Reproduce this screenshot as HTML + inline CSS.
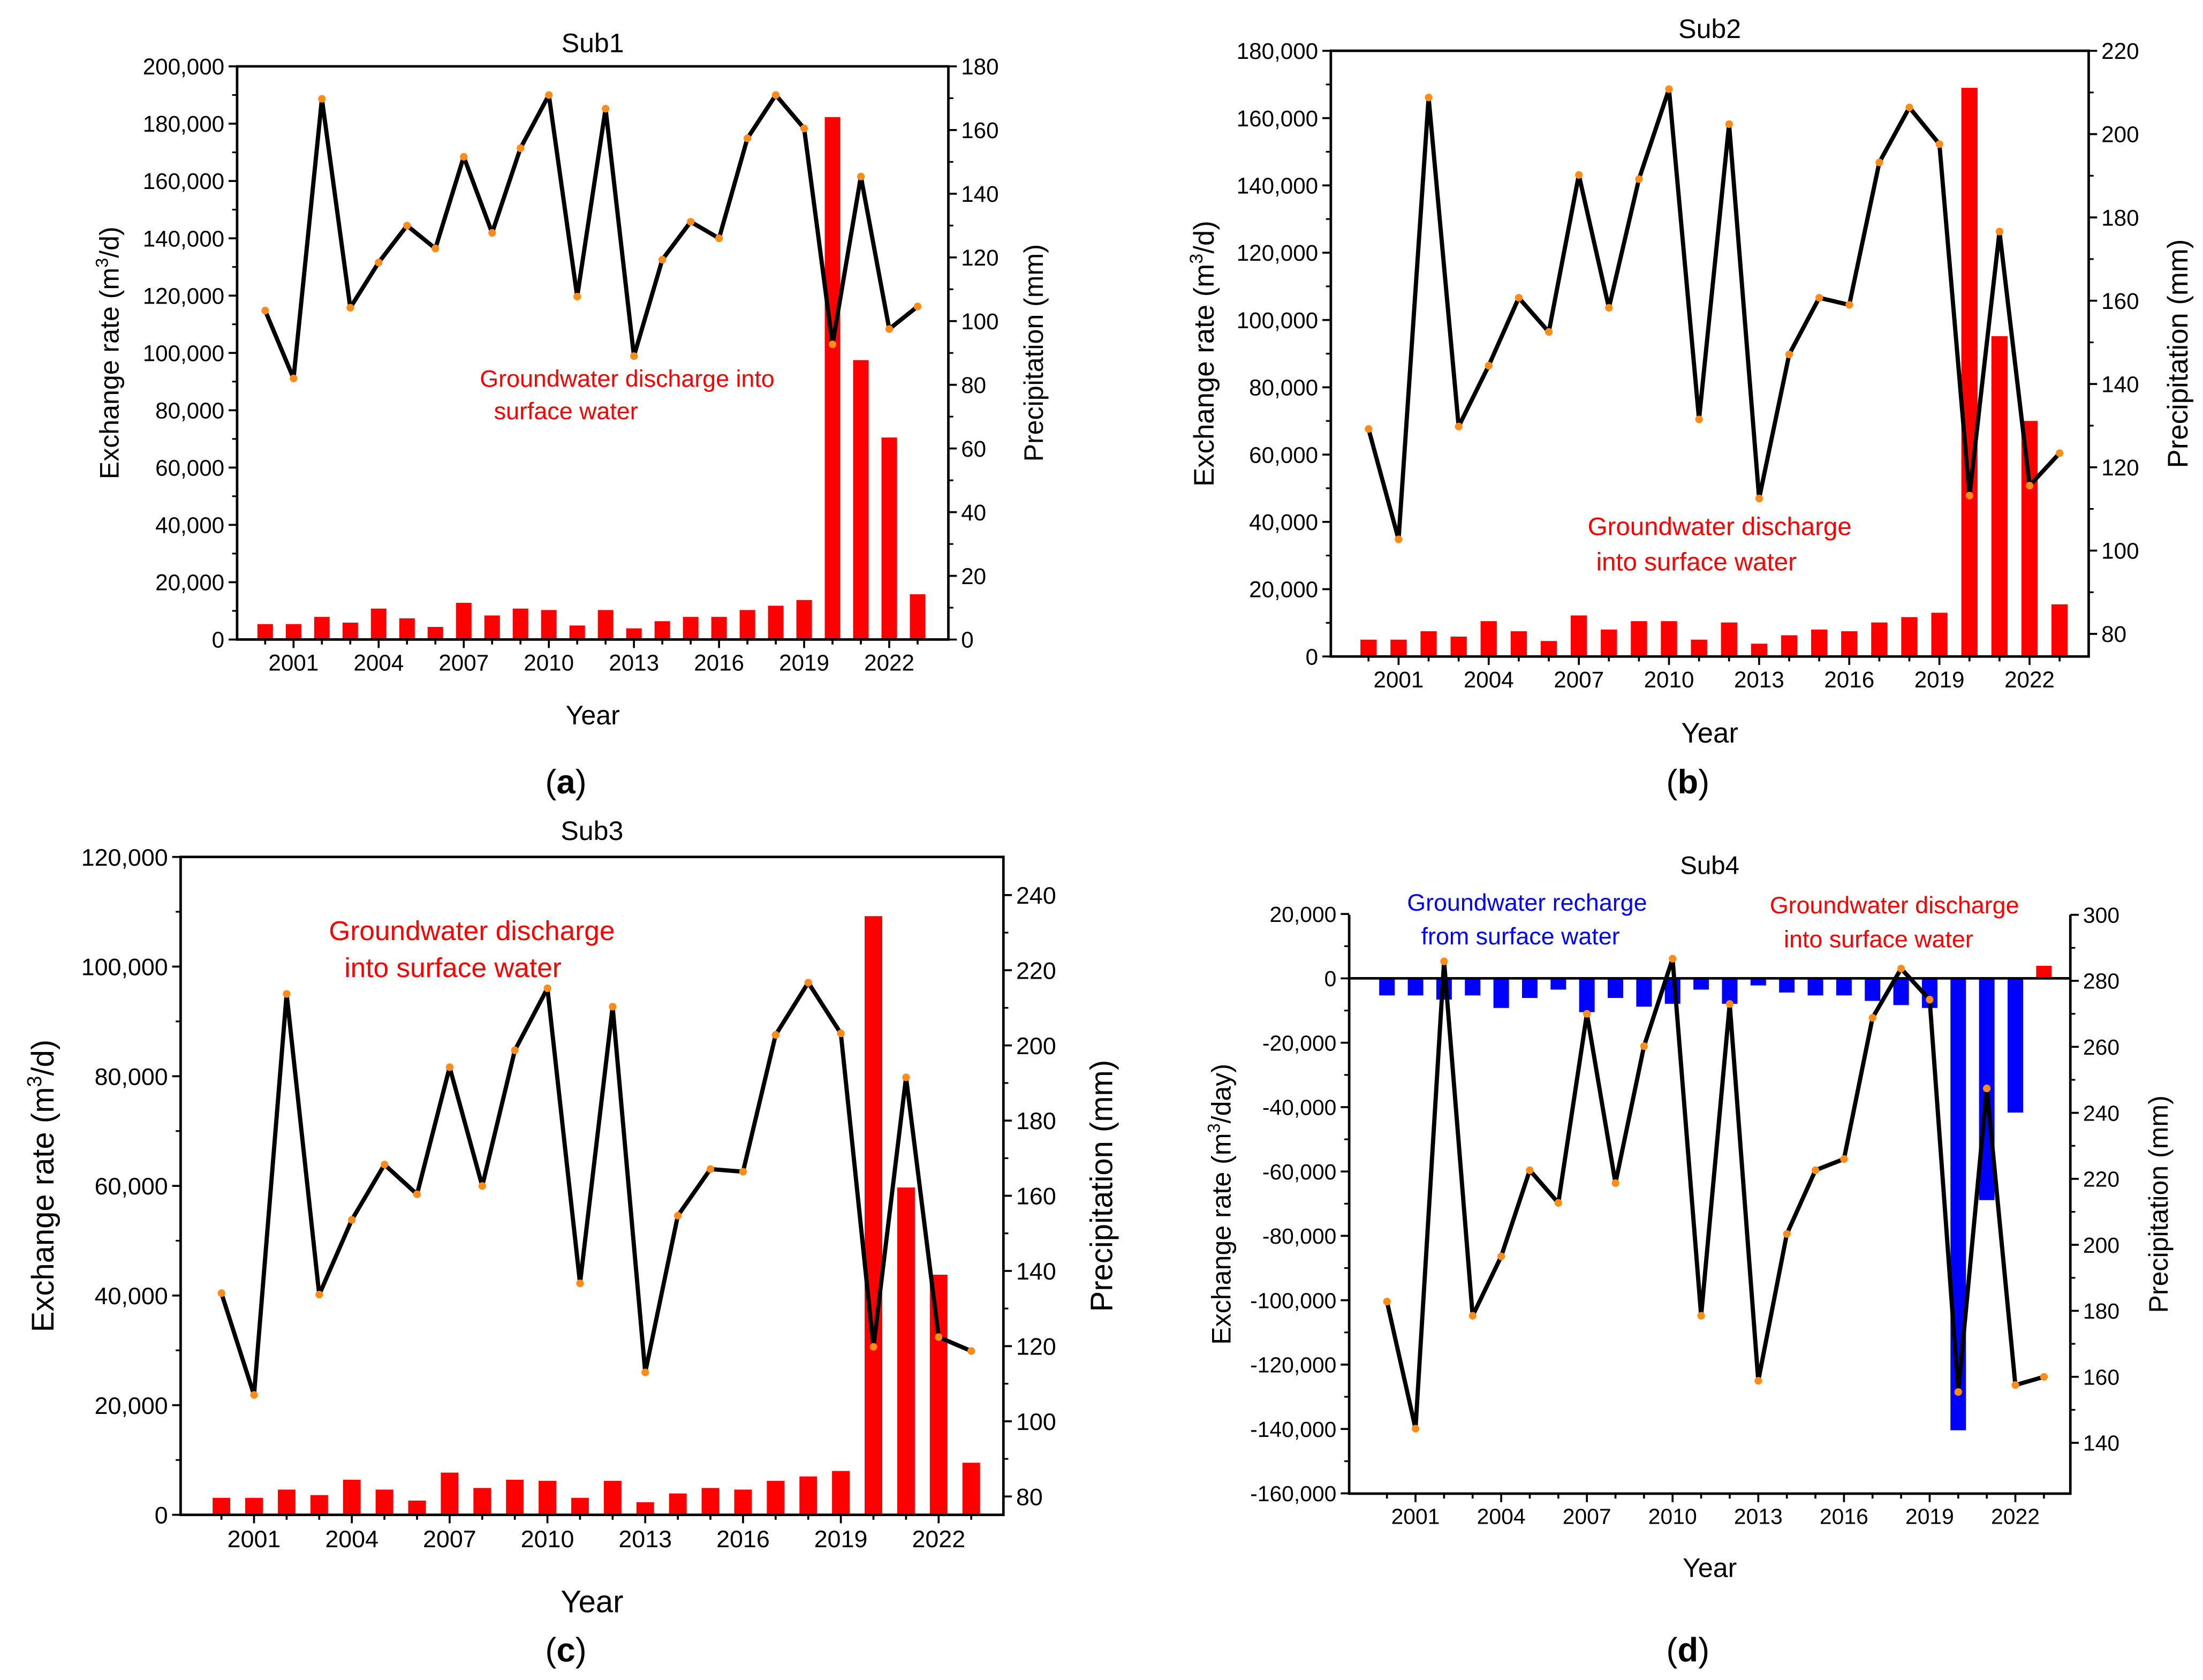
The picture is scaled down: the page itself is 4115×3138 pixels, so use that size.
<!DOCTYPE html>
<html><head><meta charset="utf-8"><style>
html,body{margin:0;padding:0;background:#fff;}
svg{display:block;}
text{font-family:"Liberation Sans",sans-serif;}
</style></head>
<body>
<svg id="fig" width="4115" height="3138" viewBox="0 0 1561 1190" preserveAspectRatio="none" xmlns="http://www.w3.org/2000/svg">
<rect width="1561" height="1190" fill="#fff"/>
</svg>
<script>
const years=[2000,2001,2002,2003,2004,2005,2006,2007,2008,2009,2010,2011,2012,2013,2014,2015,2016,2017,2018,2019,2020,2021,2022,2023];
const xTickLabels=[2001,2004,2007,2010,2013,2016,2019,2022];
const exA=[5400,5400,7900,5900,10800,7400,4400,12800,8400,10800,10300,4900,10300,3900,6400,7900,7900,10300,11800,13800,182300,97500,70500,15800];
const prA=[103.3,82,169.8,104.2,118.4,130,122.8,151.6,127.7,154.3,171,107.7,166.7,89,119.3,131.2,126,157.4,171,160.5,92.7,145.4,97.5,104.6];
const exB=[5000,5000,7500,5900,10500,7500,4600,12200,8000,10500,10500,5000,10100,3800,6300,8000,7500,10100,11700,13000,169000,95200,70000,15500];
const prB=[129.2,102.7,208.8,129.8,144.4,160.7,152.5,190.2,158.3,189.2,210.8,131.5,202.4,112.5,147.1,160.7,159,193.2,206.4,197.6,113.2,176.6,115.6,123.4];
const exC=[3100,3100,4600,3600,6400,4600,2600,7700,4900,6400,6200,3100,6200,2300,3900,4900,4600,6200,7000,8000,109200,59700,43800,9500];
const prC=[134.1,107,213.7,133.7,153.6,168.3,160.4,194.2,162.6,198.7,215.2,136.7,210.3,113,154.7,167.1,166.4,202.8,216.7,203.2,119.8,191.5,122.4,118.7];
const exD=[-5300,-5300,-6600,-5300,-9200,-6100,-3500,-10500,-6100,-8800,-7900,-3500,-7900,-2200,-4400,-5300,-5300,-7000,-8300,-9200,-140400,-68900,-41700,3900];
const prD=[182.8,144.3,285.9,178.5,196.5,222.6,212.7,270,218.7,260.2,286.7,178.5,273,158.8,203.3,222.6,226,268.8,283.7,274.3,155.4,247.4,157.5,160];
const leftTicksA=[0,20000,40000,60000,80000,100000,120000,140000,160000,180000,200000];
const rightTicksA=[0,20,40,60,80,100,120,140,160,180];
const leftTicksB=[0,20000,40000,60000,80000,100000,120000,140000,160000,180000];
const rightTicksB=[80,100,120,140,160,180,200,220];
const leftTicksC=[0,20000,40000,60000,80000,100000,120000];
const rightTicksC=[80,100,120,140,160,180,200,220,240];
const leftTicksD=[-160000,-140000,-120000,-100000,-80000,-60000,-40000,-20000,0,20000];
const rightTicksD=[140,160,180,200,220,240,260,280,300];

const NS="http://www.w3.org/2000/svg";
const svg=document.getElementById('fig');
function mk(tag,attrs,parent){const e=document.createElementNS(NS,tag);for(const k in attrs)e.setAttribute(k,attrs[k]);(parent||svg).appendChild(e);return e;}
function txt(s,attrs,parent){const e=mk('text',attrs,parent);e.textContent=s;return e;}
function fmt(v){return v.toLocaleString('en-US');}

function panel(c){
  const g=mk('g',{});
  
  
  const {L,R,T,B}=c;
  const x=yr=>c.x0+(yr-2001)*c.dx;
  const yl=v=>c.ly0+(v-c.lv0)*(c.ly1-c.ly0)/(c.lv1-c.lv0);
  const yr=v=>c.ry0+(v-c.rv0)*(c.ry1-c.ry0)/(c.rv1-c.rv0);
  const zero=yl(c.base);
  years.forEach((y,i)=>{
    const v=c.ex[i];const top=Math.min(yl(v),zero),h=Math.abs(yl(v)-zero);
    const r=mk('rect',{x:x(y)-c.bw/2,y:top,width:c.bw,height:h,fill:v>=0?'#ff0000':'#0000ff'},g);
    
    
  });
  if(c.zeroLine){const zl=mk('line',{x1:L,x2:R,y1:yl(0),y2:yl(0),stroke:'#000','stroke-width':1.8},g);
    }
  const pts=years.map((y,i)=>x(y)+','+yr(c.pr[i])).join(' ');
  const pl=mk('polyline',{points:pts,fill:'none',stroke:'#000','stroke-width':3,'stroke-linejoin':'round'},g);
  
  
  years.forEach((y,i)=>{const d=mk('circle',{cx:x(y),cy:yr(c.pr[i]),r:2.7,fill:'#ff8c1a'},g);
    });
  const fr=mk('path',{d:(c.noTop?`M${L},${T}V${B}H${R}V${T}`:`M${L},${T}V${B}H${R}V${T}Z`),fill:'none',stroke:'#000','stroke-width':1.8},g);
  
  c.lt.forEach((v,i)=>{const yy=yl(v);mk('line',{x1:L-6,x2:L,y1:yy,y2:yy,stroke:'#000','stroke-width':1.4},g);
    if(i<c.lt.length-1){const ym=yl(v+(c.lt[1]-c.lt[0])/2);mk('line',{x1:L-3.5,x2:L,y1:ym,y2:ym,stroke:'#000','stroke-width':1.2},g);}
    const t=txt(fmt(v),{x:L-9,y:yy+c.fs*0.36,'font-size':c.fs,'text-anchor':'end'},g);
    });
  c.rt.forEach((v,i)=>{const yy=yr(v);mk('line',{x1:R,x2:R+6,y1:yy,y2:yy,stroke:'#000','stroke-width':1.4},g);
    if(i<c.rt.length-1){const ym=yr(v+(c.rt[1]-c.rt[0])/2);mk('line',{x1:R,x2:R+3.5,y1:ym,y2:ym,stroke:'#000','stroke-width':1.2},g);}
    const t=txt(String(v),{x:R+9,y:yy+c.fs*0.36,'font-size':c.fs,'text-anchor':'start'},g);
    });
  years.forEach(y=>{const maj=xTickLabels.includes(y);mk('line',{x1:x(y),x2:x(y),y1:B,y2:B+(maj?6:3.5),stroke:'#000','stroke-width':1.4},g);});
  xTickLabels.forEach(y=>{const t=txt(String(y),{x:x(y),y:B+c.fs+6,'font-size':c.fs,'text-anchor':'middle'},g);
    });
  const ti=txt(c.title,{x:(L+R)/2,y:c.titleY,'font-size':c.tfs,'text-anchor':'middle'},g);
  
  const xt=txt('Year',{x:(L+R)/2,y:c.yearY,'font-size':c.afs,'text-anchor':'middle'},g);
  
  const lt=mk('text',{transform:`translate(${c.lx},${(T+B)/2}) rotate(-90)`,'font-size':c.afs,'text-anchor':'middle'},g);
  lt.innerHTML=`Exchange rate (m<tspan font-size="${c.afs*0.65}" dy="-${c.afs*0.4}">3</tspan><tspan dy="${c.afs*0.4}">/${c.unit})</tspan>`;
  
  const rtt=txt('Precipitation (mm)',{transform:`translate(${c.rx},${(T+B)/2}) rotate(-90)`,'font-size':c.afs,'text-anchor':'middle'},g);
  
  c.notes.forEach(n=>{const t=txt(n[0],{x:n[1],y:n[2],'font-size':n[4],fill:n[3]},g);
    });
  const pl2=mk('text',{x:c.plx,y:c.ply,'font-size':24,'text-anchor':'middle','font-family':'Liberation Serif, serif'},g);
  pl2.innerHTML='(<tspan font-weight="bold">'+c.letter+'</tspan>)';
  
}

panel({name:'panel-a-sub1',L:168,R:672,T:47,B:453,x0:208,dx:20.1,bw:11,ex:exA,pr:prA,base:0,
  ly0:453,ly1:47,lv0:0,lv1:200000,ry0:453,ry1:47,rv0:0,rv1:180,lt:leftTicksA,rt:rightTicksA,
  fs:16,tfs:19,afs:19,title:'Sub1',titleY:37,yearY:513,lx:84,rx:739,unit:'d',
  notes:[['Groundwater discharge into',340,274,'#ff0000',17],['surface water',350,297,'#ff0000',17]],
  letter:'a',plx:401,ply:562});
panel({name:'panel-b-sub2',L:943,R:1480,T:36,B:465,x0:991,dx:21.29,bw:11.5,ex:exB,pr:prB,base:0,
  ly0:465,ly1:36,lv0:0,lv1:180000,ry0:449,ry1:36,rv0:80,rv1:220,lt:leftTicksB,rt:rightTicksB,
  fs:16,tfs:19,afs:20,title:'Sub2',titleY:27,yearY:526,lx:860,rx:1550,unit:'d',
  notes:[['Groundwater discharge',1125,379,'#ff0000',18],['into surface water',1131,404,'#ff0000',18]],
  letter:'b',plx:1196,ply:562});
panel({name:'panel-c-sub3',L:128,R:711,T:607,B:1073,x0:180,dx:23.1,bw:12.5,ex:exC,pr:prC,base:0,
  ly0:1073,ly1:607,lv0:0,lv1:120000,ry0:1060,ry1:634,rv0:80,rv1:240,lt:leftTicksC,rt:rightTicksC,
  fs:17,tfs:19,afs:22,title:'Sub3',titleY:595,yearY:1142,lx:38,rx:788,unit:'d',
  notes:[['Groundwater discharge',233,666,'#ff0000',19.5],['into surface water',244,692,'#ff0000',19.5]],
  letter:'c',plx:401,ply:1177});
panel({name:'panel-d-sub4',L:956,R:1467,T:648,B:1058,x0:1003,dx:20.24,bw:11,ex:exD,pr:prD,base:0,noTop:true,zeroLine:true,
  ly0:693,ly1:647.4,lv0:0,lv1:20000,ry0:648,ry1:1022,rv0:300,rv1:140,lt:leftTicksD,rt:rightTicksD,
  fs:15.5,tfs:18,afs:19,title:'Sub4',titleY:619,yearY:1117,lx:872,rx:1536,unit:'day',
  notes:[['Groundwater recharge',997,645,'#0000ff',17],['from surface water',1007,669,'#0000ff',17],
         ['Groundwater discharge',1254,647,'#ff0000',17],['into surface water',1264,671,'#ff0000',17]],
  letter:'d',plx:1196,ply:1177});
</script>
</body></html>
